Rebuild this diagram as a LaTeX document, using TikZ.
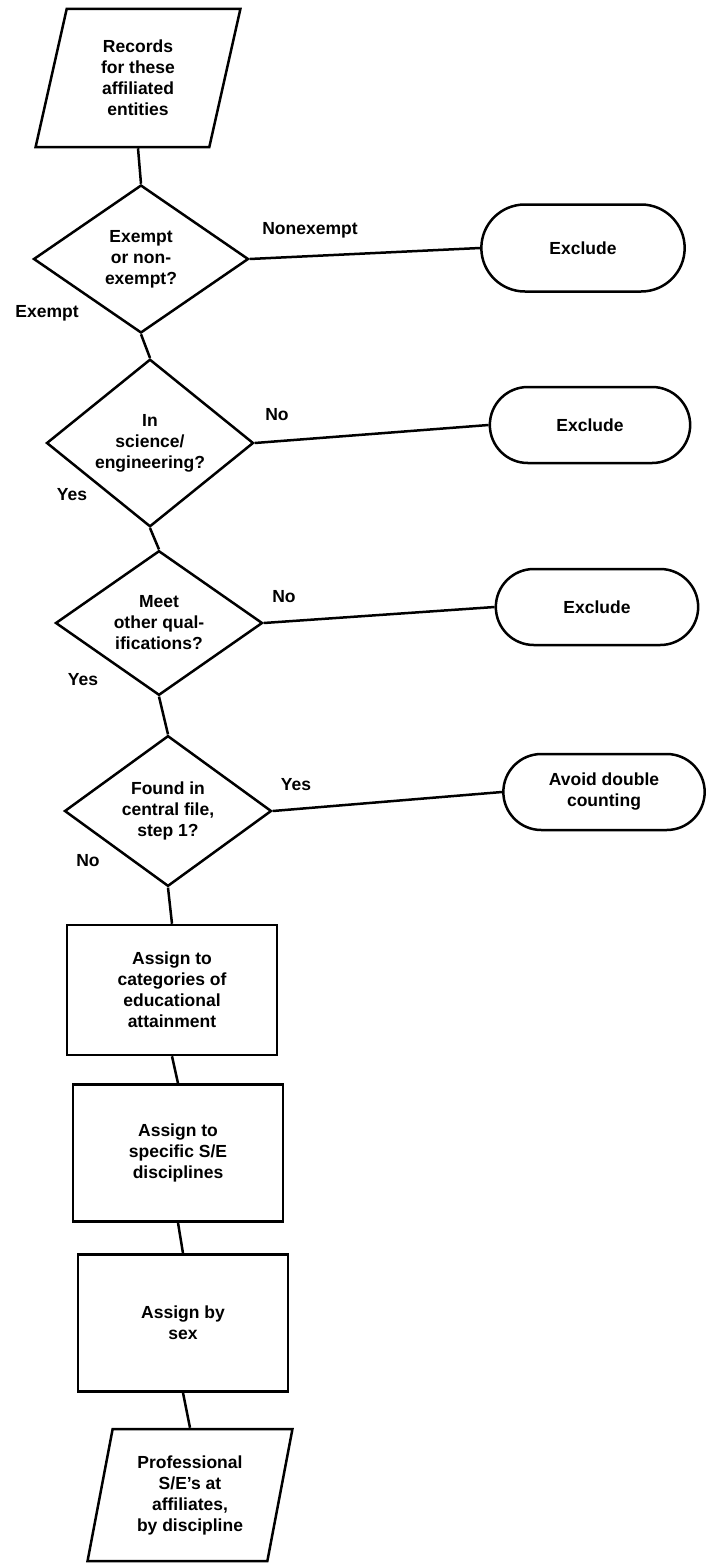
\documentclass[tikz,border=0pt]{standalone}
\usepackage{fontspec}
\setmainfont{Liberation Sans}
\usetikzlibrary{shapes.geometric,shapes.misc}
\begin{document}
\begin{tikzpicture}[x=1pt,y=-1pt,line width=2.5pt,
        every node/.style={font=\bfseries\fontsize{17.5}{21}\selectfont,align=center},
        datanode/.style={draw,trapezium,trapezium left angle=78,trapezium right angle=102,
            trapezium stretches=true,minimum width=205pt},
        decide/.style={draw,diamond,inner sep=0pt},
        endnode/.style={draw,rounded rectangle,minimum height=76pt},
        procnode/.style={draw,rectangle,minimum width=210pt,minimum height=134pt},
    ]
        \useasboundingbox (0,0) rectangle (708,1568);
        % input and decisions
        \node[datanode,minimum height=138pt] (rec) at (138,78) {Records\\for these\\affiliated\\entities};
        \node[decide,minimum width=215pt,minimum height=148pt] (qexempt) at (141,259) {Exempt\\or non-\\exempt?};
        \node[decide,minimum width=207pt,minimum height=149pt] (qscience) at (150,443) {In\\science/\\engineering?};
        \node[decide,minimum width=207pt,minimum height=144pt] (qqual) at (159,623) {Meet\\other qual-\\ifications?};
        \node[decide,minimum width=207pt,minimum height=147pt] (qfound) at (168,811) {Found in\\central file,\\step 1?};
        % excluded records
        \node[endnode,minimum width=210pt,minimum height=87pt] (exone) at (583,248) {Exclude};
        \node[endnode,minimum width=207pt] (extwo) at (590,425) {Exclude};
        \node[endnode,minimum width=209pt] (exthree) at (597,607) {Exclude};
        \node[endnode,minimum width=208pt] (avoid) at (604,792) {Avoid double\\counting};
        % assignment steps
        \node[procnode,minimum height=130pt] (educ) at (172,990) {Assign to\\categories of\\educational\\attainment};
        \node[procnode,minimum height=137pt] (disc) at (178,1153) {Assign to\\specific S/E\\disciplines};
        \node[procnode,minimum height=137pt] (sex) at (183,1323) {Assign by\\sex};
        \node[datanode,minimum height=132pt] (prof) at (190,1495) {Professional\\S/E's at\\affiliates,\\by discipline};
        % branch labels
        \node (lnonex) at (310,230) {Nonexempt};
        \node (lexempt) at (47,313) {Exempt};
        \node (lnotwo) at (277,415) {No};
        \node (lyestwo) at (72,495) {Yes};
        \node (lnothree) at (284,597) {No};
        \node (lyesthree) at (83,680) {Yes};
        \node (lyesfour) at (296,785) {Yes};
        \node (lnofour) at (88,861) {No};
        % connectors
        \draw (rec.south) -- (qexempt.north);
        \draw (qexempt.east) -- (exone.west);
        \draw (qexempt.south) -- (qscience.north);
        \draw (qscience.east) -- (extwo.west);
        \draw (qscience.south) -- (qqual.north);
        \draw (qqual.east) -- (exthree.west);
        \draw (qqual.south) -- (qfound.north);
        \draw (qfound.east) -- (avoid.west);
        \draw (qfound.south) -- (educ.north);
        \draw (educ.south) -- (disc.north);
        \draw (disc.south) -- (sex.north);
        \draw (sex.south) -- (prof.north);
    \end{tikzpicture}
\end{document}
